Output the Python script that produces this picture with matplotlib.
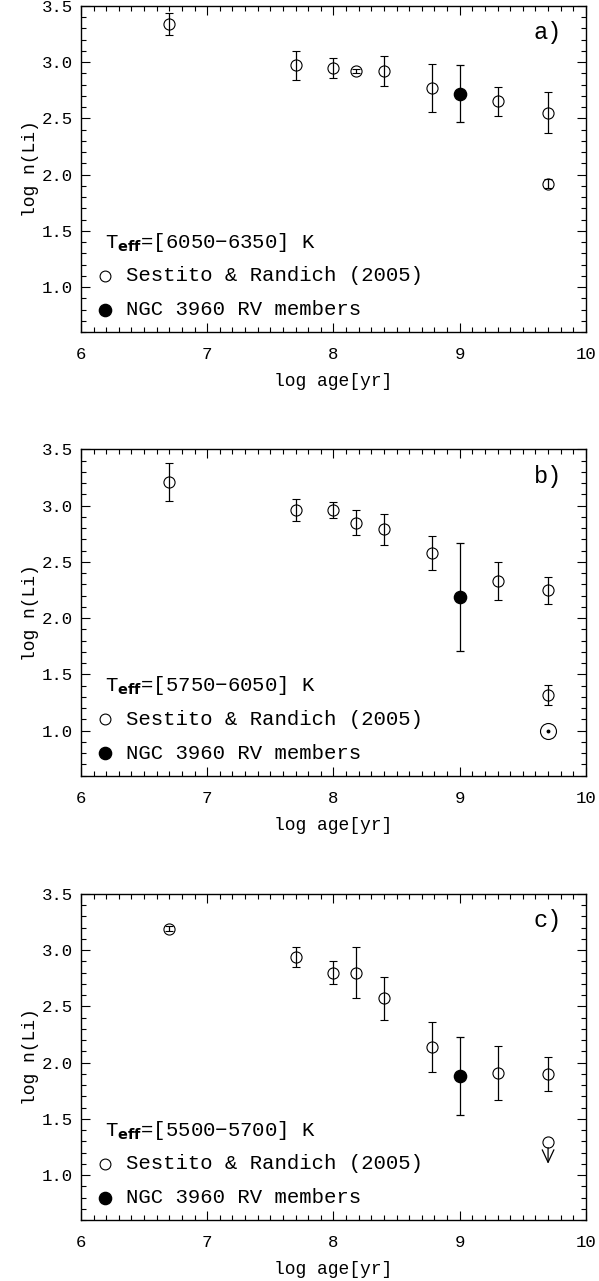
import matplotlib
matplotlib.use("Agg")
import matplotlib.pyplot as plt
from matplotlib.ticker import MultipleLocator, FormatStrFormatter

plt.rcParams['font.family'] = ['Liberation Mono', 'DejaVu Sans Mono']
plt.rcParams['mathtext.fontset'] = 'dejavusans'

# Sestito & Randich (2005) cluster ages, log age [yr]
age = [6.7, 7.7, 8.0, 8.18, 8.4, 8.78, 9.3, 9.7, 9.7]
age_c = [6.7, 7.7, 8.0, 8.18, 8.4, 8.78, 9.3, 9.7]

# panel a) Teff = 6050-6350 K
li_a = [3.34, 2.97, 2.95, 2.92, 2.92, 2.77, 2.65, 2.55, 1.92]
err_a = [0.10, 0.13, 0.09, 0.02, 0.13, 0.21, 0.13, 0.18, 0.04]
# panel b) Teff = 5750-6050 K
li_b = [3.21, 2.96, 2.96, 2.85, 2.79, 2.58, 2.33, 2.25, 1.32]
err_b = [0.17, 0.10, 0.07, 0.11, 0.14, 0.15, 0.17, 0.12, 0.09]
# panel c) Teff = 5500-5700 K
li_c = [3.19, 2.94, 2.80, 2.80, 2.57, 2.14, 1.91, 1.90]
err_c = [0.02, 0.09, 0.10, 0.23, 0.19, 0.22, 0.24, 0.15]

# NGC 3960 RV members
ngc_age = 9.0
ngc_li = [2.72, 2.19, 1.88]
ngc_err = [0.25, 0.48, 0.35]

# Sun (panel b) and upper limit (panel c)
sun_age, sun_li = 9.7, 1.0
lim_age, lim_li, lim_tip = 9.7, 1.29, 1.10

teff_ranges = ["6050−6350", "5750−6050", "5500−5700"]
panel_tags = ["a)", "b)", "c)"]

fig = plt.figure(figsize=(5.99, 12.81), dpi=100)
bottoms = [0.7408, 0.3945, 0.0476]
series = [(age, li_a, err_a), (age, li_b, err_b), (age_c, li_c, err_c)]

for i, (x, y, e) in enumerate(series):
    ax = fig.add_axes([0.1352, bottoms[i], 0.843, 0.2547])
    ax.errorbar(x, y, yerr=e, fmt='o', ms=8, mfc='none', mec='k', mew=0.8,
                ecolor='k', elinewidth=0.9, capsize=2.6, capthick=0.9, color='k')
    ax.errorbar([ngc_age], [ngc_li[i]], yerr=[ngc_err[i]], fmt='o', ms=8.8,
                mfc='k', mec='k', ecolor='k', elinewidth=0.9, capsize=2.6,
                capthick=0.9)
    if i == 1:
        ax.plot([sun_age], [sun_li], 'o', ms=11.5, mfc='none', mec='k', mew=0.8)
        ax.plot([sun_age], [sun_li], 'o', ms=1.8, mfc='k', mec='k')
    if i == 2:
        ax.plot([lim_age], [lim_li], 'o', ms=8, mfc='none', mec='k', mew=0.8)
        ax.annotate('', xy=(lim_age, lim_tip), xytext=(lim_age, lim_li),
                    arrowprops=dict(arrowstyle='->,head_length=0.6,head_width=0.28',
                                    mutation_scale=15, color='k', lw=0.9,
                                    shrinkA=3.8, shrinkB=0))

    # legend block
    ax.text(6.19, 1.40, "T$_{\\mathbf{eff}}$=[" + teff_ranges[i] + "] K",
            fontsize=14.9, va='center', ha='left')
    ax.plot([6.19], [1.10], 'o', ms=7.8, mfc='none', mec='k', mew=0.8)
    ax.plot([6.19], [0.80], 'o', ms=8.8, mfc='k', mec='k')
    ax.text(6.36, 1.10, "Sestito & Randich (2005)", fontsize=14.9, va='center')
    ax.text(6.36, 0.80, "NGC 3960 RV members", fontsize=14.9, va='center')
    ax.text(9.7, 3.26, panel_tags[i], fontsize=17, ha='center', va='center')

    ax.set_xlim(6, 10)
    ax.set_ylim(0.6, 3.5)
    ax.xaxis.set_major_locator(MultipleLocator(1))
    ax.xaxis.set_minor_locator(MultipleLocator(0.1))
    ax.yaxis.set_major_locator(MultipleLocator(0.5))
    ax.yaxis.set_minor_locator(MultipleLocator(0.1))
    ax.yaxis.set_major_formatter(FormatStrFormatter('%.1f'))
    ax.tick_params(which='both', direction='in', top=True, right=True,
                   width=0.8, labelsize=12.5)
    ax.tick_params(which='major', length=6.5)
    ax.tick_params(which='minor', length=3.6)
    ax.tick_params(axis='x', pad=11)
    ax.tick_params(axis='y', pad=6)
    for s in ax.spines.values():
        s.set_linewidth(1.0)
    ax.set_xlabel("log age[yr]", fontsize=13)
    ax.set_ylabel("log n(Li)", fontsize=13)
    ax.xaxis.set_label_coords(0.5, -0.153)
    ax.xaxis.label.set_va('center')
    ax.yaxis.set_label_coords(-0.1, 0.5)
    ax.yaxis.label.set_va('center')

fig.savefig("out.png", dpi=100)
